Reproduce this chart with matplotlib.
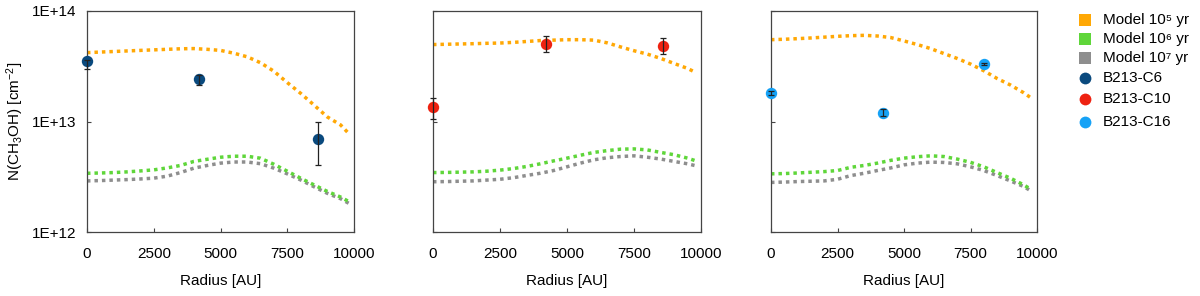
import matplotlib
matplotlib.use("Agg")
import matplotlib.pyplot as plt
from matplotlib.lines import Line2D
from matplotlib.ticker import FixedLocator, NullLocator

plt.rcParams['font.family'] = ['Liberation Sans', 'DejaVu Sans']
plt.rcParams['mathtext.fontset'] = 'custom'
plt.rcParams['mathtext.rm'] = 'Liberation Sans'
plt.rcParams['mathtext.it'] = 'Liberation Sans:italic'

# model radius grid [AU]
radius = [0, 500, 1000, 1500, 2000, 2500, 3000, 3500, 4000, 4500, 5000,
          5500, 6000, 6500, 7000, 7500, 8000, 8500, 9000, 9500, 9800]

# B213-C6 models
c6_1e5 = [4.2e13, 4.25e13, 4.3e13, 4.35e13, 4.4e13, 4.45e13, 4.5e13, 4.55e13, 4.57e13, 4.5e13, 4.4e13,
          4.15e13, 3.85e13, 3.4e13, 2.85e13, 2.25e13, 1.8e13, 1.41e13, 1.1e13, 9.3e12, 7.8e12]
c6_1e6 = [3.4e12, 3.42e12, 3.45e12, 3.5e12, 3.57e12, 3.65e12, 3.8e12, 4.0e12, 4.35e12, 4.55e12, 4.75e12,
          4.85e12, 4.85e12, 4.65e12, 4.1e12, 3.55e12, 3.07e12, 2.67e12, 2.33e12, 2.07e12, 1.89e12]
c6_1e7 = [2.9e12, 2.92e12, 2.95e12, 2.98e12, 3.02e12, 3.07e12, 3.2e12, 3.45e12, 3.78e12, 4.0e12, 4.2e12,
          4.3e12, 4.3e12, 4.15e12, 3.78e12, 3.36e12, 2.96e12, 2.57e12, 2.24e12, 2.0e12, 1.82e12]

# B213-C10 models
c10_1e5 = [4.97e13, 5.0e13, 5.03e13, 5.06e13, 5.1e13, 5.13e13, 5.2e13, 5.3e13, 5.4e13, 5.45e13, 5.5e13,
           5.5e13, 5.45e13, 5.15e13, 4.73e13, 4.37e13, 4.07e13, 3.72e13, 3.35e13, 3.02e13, 2.78e13]
c10_1e6 = [3.45e12, 3.46e12, 3.48e12, 3.5e12, 3.55e12, 3.63e12, 3.75e12, 3.92e12, 4.14e12, 4.4e12, 4.66e12,
           4.95e12, 5.25e12, 5.45e12, 5.62e12, 5.65e12, 5.53e12, 5.25e12, 5.0e12, 4.66e12, 4.41e12]
c10_1e7 = [2.85e12, 2.86e12, 2.88e12, 2.9e12, 2.95e12, 3.0e12, 3.1e12, 3.25e12, 3.4e12, 3.6e12, 3.89e12,
           4.2e12, 4.5e12, 4.7e12, 4.82e12, 4.89e12, 4.75e12, 4.57e12, 4.35e12, 4.14e12, 3.98e12]

# B213-C16 models
c16_1e5 = [5.5e13, 5.55e13, 5.62e13, 5.7e13, 5.8e13, 5.9e13, 5.98e13, 6.02e13, 5.94e13, 5.75e13, 5.36e13,
           4.97e13, 4.57e13, 4.12e13, 3.72e13, 3.31e13, 2.88e13, 2.45e13, 2.14e13, 1.82e13, 1.62e13]
c16_1e6 = [3.36e12, 3.38e12, 3.42e12, 3.47e12, 3.52e12, 3.6e12, 3.85e12, 4.0e12, 4.2e12, 4.45e12, 4.66e12,
           4.8e12, 4.89e12, 4.82e12, 4.57e12, 4.27e12, 3.89e12, 3.45e12, 3.07e12, 2.67e12, 2.41e12]
c16_1e7 = [2.81e12, 2.83e12, 2.86e12, 2.88e12, 2.9e12, 3.0e12, 3.24e12, 3.4e12, 3.6e12, 3.8e12, 4.05e12,
           4.2e12, 4.29e12, 4.26e12, 4.14e12, 3.89e12, 3.6e12, 3.24e12, 2.9e12, 2.58e12, 2.33e12]

# observations: radius, N, lower error, upper error
c6_r = [0, 4200, 8650]
c6_n = [3.5e13, 2.4e13, 6.9e12]
c6_lo = [0.5e13, 0.25e13, 2.9e12]
c6_hi = [0.1e13, 0.25e13, 3.1e12]

c10_r = [0, 4200, 8600]
c10_n = [1.34e13, 5.07e13, 4.86e13]
c10_lo = [0.29e13, 0.8e13, 0.79e13]
c10_hi = [0.28e13, 0.91e13, 0.89e13]

c16_r = [0, 4200, 8000]
c16_n = [1.8e13, 1.2e13, 3.3e13]
c16_lo = [0.08e13, 0.09e13, 0.08e13]
c16_hi = [0.08e13, 0.1e13, 0.08e13]

legend_labels = ['Model 10⁵ yr', 'Model 10⁶ yr', 'Model 10⁷ yr',
                 'B213-C6', 'B213-C10', 'B213-C16']

col_1e5 = '#FFA805'
col_1e6 = '#5FD63A'
col_1e7 = '#8E8E8E'
col_c6 = '#0A4A7E'
col_c10 = '#EE2211'
col_c16 = '#16A2F6'

panels = [
    (c6_1e5, c6_1e6, c6_1e7, c6_r, c6_n, c6_lo, c6_hi, col_c6),
    (c10_1e5, c10_1e6, c10_1e7, c10_r, c10_n, c10_lo, c10_hi, col_c10),
    (c16_1e5, c16_1e6, c16_1e7, c16_r, c16_n, c16_lo, c16_hi, col_c16),
]
lefts = [87 / 1200, 433 / 1200, 771 / 1200]
widths = [267 / 1200, 268 / 1200, 266 / 1200]

fig = plt.figure(figsize=(12, 2.96), dpi=100)
dot = (0, (1.0, 1.15))

for i, (m5, m6, m7, r, n, lo, hi, col) in enumerate(panels):
    ax = fig.add_axes([lefts[i], 1 - 232 / 296, widths[i], 221 / 296])
    for m, c in ((m7, col_1e7), (m6, col_1e6), (m5, col_1e5)):
        ax.plot(radius, m, color=c, linewidth=2.5, linestyle=dot,
                dash_capstyle='butt', zorder=2)
    ax.plot(r, n, 'o', color=col, markersize=8.2, markeredgewidth=0,
            zorder=4, clip_on=False)
    ax.errorbar(r, n, yerr=[lo, hi], fmt='none', ecolor='#222222',
                elinewidth=0.9, capsize=2.5, capthick=0.9, zorder=5, clip_on=False)

    ax.set_yscale('log')
    ax.set_ylim(1e12, 1e14)
    ax.set_xlim(0, 10000)
    ax.xaxis.set_major_locator(FixedLocator([0, 2500, 5000, 7500, 10000]))
    ax.yaxis.set_major_locator(FixedLocator([1e12, 1e13, 1e14]))
    ax.yaxis.set_minor_locator(NullLocator())
    ax.tick_params(direction='in', length=3, width=0.8, color='#444444',
                   labelsize=11, pad=8)
    ax.tick_params(axis='x', pad=11)
    for s in ax.spines.values():
        s.set_color('#444444')
        s.set_linewidth(0.9)
    ax.set_xlabel('Radius [AU]', fontsize=11, labelpad=9)
    if i == 0:
        ax.set_yticklabels(['1E+12', '1E+13', '1E+14'])
        ax.set_ylabel('N(CH$_3$OH) [cm$^{-2}$]', fontsize=11, labelpad=4)
    else:
        ax.set_yticklabels([])

# legend drawn by hand to keep even row spacing
legend_markers = ['s', 's', 's', 'o', 'o', 'o']
legend_colors = [col_1e5, col_1e6, col_1e7, col_c6, col_c10, col_c16]
row_y = [20, 39, 58, 78, 99, 122]
for lab, mk, c, y in zip(legend_labels, legend_markers, legend_colors, row_y):
    yf = 1 - y / 296
    fig.add_artist(Line2D([1085 / 1200], [yf], marker=mk, color=c, linestyle='none',
                          markersize=8 if mk == 's' else 8.5, markeredgewidth=0,
                          transform=fig.transFigure))
    fig.text(1103 / 1200, yf, lab, fontsize=11, va='center', ha='left')

fig.savefig('out.png', dpi=100)
